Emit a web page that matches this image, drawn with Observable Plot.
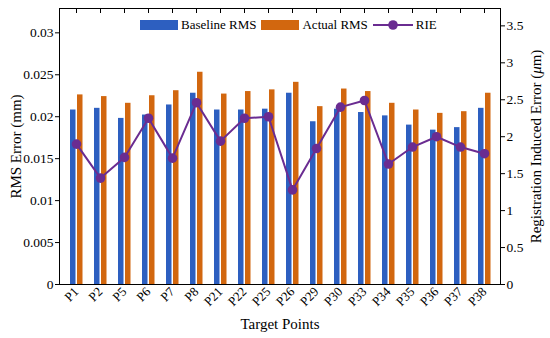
<!DOCTYPE html>
<html>
<head>
<meta charset="utf-8">
<script src="https://cdn.jsdelivr.net/npm/d3@7"></script>
<script src="https://cdn.jsdelivr.net/npm/@observablehq/plot@0.6"></script>
<style>
  html, body { margin: 0; padding: 0; background: #fff; }
  #wrap { position: relative; width: 550px; height: 338px; font-family: "Liberation Serif", "Times New Roman", serif; }
  #legend { position: absolute; top: 17px; left: 140px; display: flex; align-items: center; font-size: 13px; color: #000; white-space: nowrap; }
  #legend .sw { display: inline-block; width: 38px; height: 10px; margin-right: 3px; }
  #legend .item { display: flex; align-items: center; margin-right: 5px; }
  #legend svg { margin-right: 3px; }
</style>
</head>
<body>
<div id="wrap">
  <div id="chart"></div>
  <div id="legend"></div>
</div>
<script>
const categories = ["P1","P2","P5","P6","P7","P8","P21","P22","P25","P26","P29","P30","P33","P34","P35","P36","P37","P38"];
const baselineRMS = [0.0208,0.0210,0.0198,0.0202,0.0214,0.0228,0.0208,0.0208,0.0209,0.0228,0.0194,0.0209,0.0205,0.0201,0.0190,0.0184,0.0187,0.0210];
const actualRMS   = [0.0226,0.0224,0.0216,0.0225,0.0231,0.0253,0.0227,0.0230,0.0232,0.0241,0.0212,0.0233,0.0230,0.0216,0.0208,0.0204,0.0206,0.0228];
const rie         = [1.90,1.44,1.72,2.25,1.71,2.46,1.94,2.25,2.27,1.28,1.84,2.40,2.49,1.63,1.86,2.00,1.86,1.77];
const leftTicks  = [0,0.005,0.01,0.015,0.02,0.025,0.03];
const rightTicks = [0,0.5,1,1.5,2,2.5,3,3.5];
const seriesNames = ["Baseline RMS","Actual RMS","RIE"];
const colors = ["#2d5fc0","#d2670f","#6a2c91"];

const leftMax = 0.0329, rightMax = 3.735;
const k = leftMax / rightMax;

const rows = categories.map((c, i) => ({cat: c, base: baselineRMS[i], act: actualRMS[i], rie: rie[i] * k}));

const plot = Plot.plot({
  width: 550,
  height: 338,
  marginLeft: 59,
  marginRight: 50,
  marginTop: 8,
  marginBottom: 54,
  style: {fontFamily: '"Liberation Serif", "Times New Roman", serif', fontSize: "13px", color: "#000", background: "#fff"},
  x: {type: "band", domain: categories, padding: 0, align: 0.5},
  y: {domain: [0, leftMax]},
  marks: [
    Plot.barY(rows, {x: "cat", y: "base", fill: colors[0], insetLeft: 6, insetRight: 12.5}),
    Plot.barY(rows, {x: "cat", y: "act", fill: colors[1], insetLeft: 13, insetRight: 5.5}),
    Plot.line(rows, {x: "cat", y: "rie", stroke: colors[2], strokeWidth: 2}),
    Plot.dot(rows, {x: "cat", y: "rie", fill: colors[2], r: 4.8}),
    Plot.axisY(leftTicks, {anchor: "left", tickSize: 4, tickPadding: 2, fontSize: 13.5,
      tickFormat: d => String(d), label: "RMS Error (mm)", labelAnchor: "center", labelArrow: "none", labelOffset: 49}),
    Plot.axisY(rightTicks.map(t => t * k), {anchor: "right", tickSize: 4, tickPadding: 2, fontSize: 13.5,
      tickFormat: d => String(Math.round(d / k * 10) / 10), label: "Registration Induced Error (μm)", labelAnchor: "center", labelArrow: "none", labelOffset: 40}),
    Plot.axisX({anchor: "bottom", tickSize: 0, tickPadding: 5, tickRotate: -45, fontSize: 13,
      label: "Target Points", labelAnchor: "center", labelArrow: "none", labelOffset: 44}),
    Plot.axisX({anchor: "top", tickSize: -4, tickFormat: null, label: null}),
    Plot.frame({stroke: "#000", strokeWidth: 1})
  ]
});

plot.querySelectorAll('[aria-label="y-axis label"] text, [aria-label="x-axis label"] text').forEach(t => {
  t.setAttribute("font-size", "15");
});
const yLabels = plot.querySelectorAll('[aria-label="y-axis label"] text');
yLabels.forEach(t => {
  const s = t.textContent;
  if (s.includes("μ")) {
    const [a, b] = s.split("μ");
    t.textContent = "";
    const ns = "http://www.w3.org/2000/svg";
    const t1 = document.createElementNS(ns, "tspan"); t1.textContent = a;
    const t2 = document.createElementNS(ns, "tspan"); t2.textContent = "μ"; t2.setAttribute("font-style", "italic");
    const t3 = document.createElementNS(ns, "tspan"); t3.textContent = b;
    t.append(t1, t2, t3);
  }
});
document.getElementById("chart").append(plot);

const lg = document.getElementById("legend");
seriesNames.forEach((name, i) => {
  const item = document.createElement("div");
  item.className = "item";
  if (i < 2) {
    const sw = document.createElement("span");
    sw.className = "sw";
    sw.style.background = colors[i];
    item.append(sw);
  } else {
    item.insertAdjacentHTML("beforeend",
      `<svg width="40" height="12"><line x1="0" x2="40" y1="6" y2="6" stroke="${colors[2]}" stroke-width="2"/><circle cx="20" cy="6" r="4.8" fill="${colors[2]}"/></svg>`);
  }
  const tx = document.createElement("span");
  tx.textContent = name;
  item.append(tx);
  lg.append(item);
});
</script>
</body>
</html>
